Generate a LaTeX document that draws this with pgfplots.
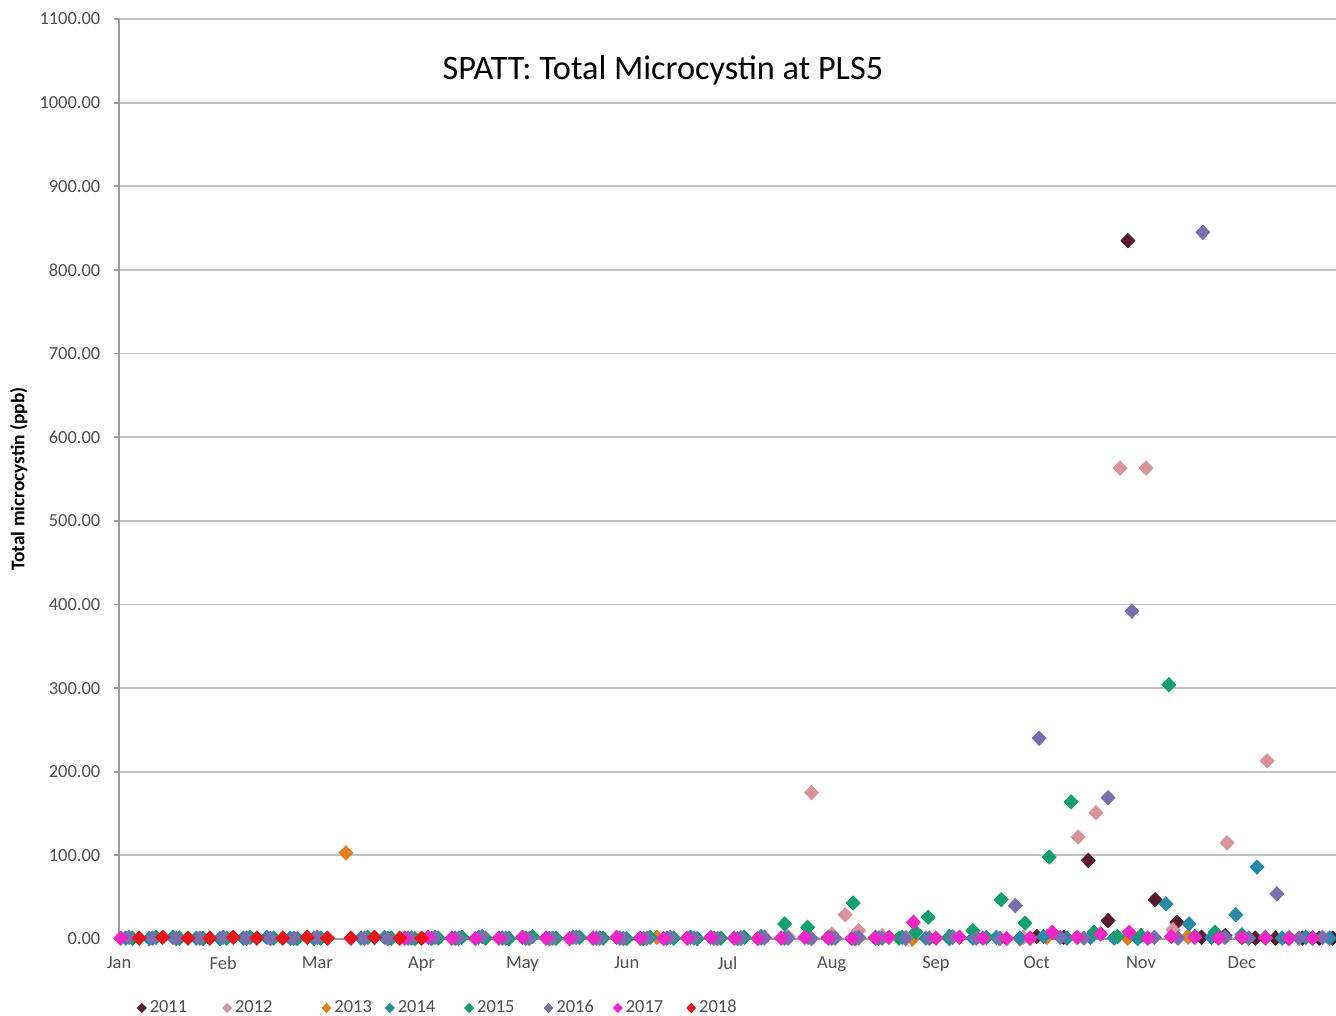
\documentclass[border=0pt]{standalone}
\usepackage{fontspec}
\setmainfont{Carlito}
\usepackage{pgfplots}
\pgfplotsset{compat=1.18}
\definecolor{C2011}{HTML}{5A1A2E}
\definecolor{C2012}{HTML}{D8939C}
\definecolor{C2013}{HTML}{E0801F}
\definecolor{C2014}{HTML}{2A8BA8}
\definecolor{C2015}{HTML}{13A06E}
\definecolor{C2016}{HTML}{7A6FAE}
\definecolor{C2017}{HTML}{F025C6}
\definecolor{C2018}{HTML}{E8141C}
\definecolor{TickText}{HTML}{505050}
\definecolor{GridGray}{HTML}{C4C4C4}
\newcommand{\gap}[1]{\rule{#1}{0pt}}

\begin{document}
\begin{tikzpicture}
\begin{axis}[scale only axis,width=243.4mm,height=184mm,
  xmin=0,xmax=362,ymin=0,ymax=1100,
  clip=false,
  axis lines*=left,
  axis line style={draw=GridGray!80!black,line width=1pt},
  ymajorgrids,grid style={GridGray,line width=1pt},
  ytick={0,100,...,1100},
  xtick={0,31,59,90,120,151,181,212,243,273,304,334},
  xticklabels={Jan,Feb,Mar,Apr,May,Jun,Jul,Aug,Sep,Oct,Nov,Dec},
  tick align=outside,
  xtick style={draw=none},
  ytick style={draw=GridGray!80!black,line width=1pt},
  major tick length=1mm,
  /pgf/number format/assume math mode=true,
  yticklabel style={xshift=-1.5mm,/pgf/number format/.cd,fixed,fixed zerofill,precision=2,1000 sep={}},
  tick label style={font=\fontsize{10.5}{12}\selectfont,text=TickText},
  xticklabel style={yshift=-1.2mm},
  ylabel={\bfseries Total microcystin (ppb)},
  ylabel style={font=\fontsize{11}{13}\selectfont},
  legend columns=8,
  legend cell align=left,
  legend image code/.code={\draw[mark repeat=2,mark phase=2,mark size=2.6pt]
    plot coordinates {(0cm,0cm) (0.1cm,0cm) (0.2cm,0cm)};},
  legend style={at={(rel axis cs:0,0)},anchor=west,xshift=3.6mm,yshift=-13.8mm,
    draw=none,fill=none,inner sep=0pt,
    font=\fontsize{10.5}{12}\selectfont,text=TickText,
    /tikz/every even column/.style={column sep=0pt},
    /tikz/every odd column/.style={column sep=0pt}},
  every axis plot/.append style={only marks,mark=diamond*,mark size=4.1pt,
    mark options={xscale=1.3}},
]
% 2011
\addplot[color=C2011] coordinates {
(273,3) (281,2) (288.3,94) (294.2,22) (300.1,835) (308.2,47) (314.7,20) (322,2)
(329,4) (334,2) (338,1) (344,1) (348,2) (352,1) (357,1) (361,1)};
\addlegendentry{2011\gap{6.4mm}}
% 2012
\addplot[color=C2012] coordinates {
(185,2) (192,1) (199,3) (206,175) (212,6) (216,29) (220,10) (227,4) (234,2)
(241,1) (248,3) (255,2) (262,1) (269,2) (276,3) (285.3,122) (290.6,151)
(297.8,563) (305.5,563) (313.5,11) (318,2) (329.6,115) (341.5,213) (348,2) (355,1)};
\addlegendentry{2012\gap{9.2mm}}
% 2013
\addplot[color=C2013] coordinates {
(67.5,103) (100,1) (160,2) (212,2) (220,1) (236,0) (255,2) (268,0) (271,1)
(276,2) (300,1) (318,3) (355,1)};
\addlegendentry{2013\gap{2mm}}
% 2014
\addplot[color=C2014] coordinates {
(2,1) (9,0.5) (16,2) (23,1) (30,0.5) (37,1) (44,2) (51,1) (58,0.5) (72,1) (79,2)
(86,1) (93,0.5) (100,1) (107,2) (114,1) (121,1) (128,0.5) (135,2) (142,1) (149,1)
(156,0.5) (163,1) (170,2) (177,1) (184,0.5) (191,1) (198,1) (205,2) (212,1)
(219,0.5) (226,1) (233,2) (240,1) (247,0.5) (254,1) (261,2) (268,1) (275,3)
(282,1) (289,2) (296,1) (303,0.5) (311.4,42) (318.3,18) (325,2) (332.2,29)
(338.5,86) (346,1) (353,2) (360,1)};
\addlegendentry{2014\gap{5.2mm}}
% 2015
\addplot[color=C2015] coordinates {
(4,1) (11,2) (18,1) (25,0.5) (32,1) (39,2) (46,1) (53,0.5) (60,1) (74,2) (81,1)
(88,0.5) (95,1) (102,2) (109,1) (116,0.5) (123,3) (130,1) (137,2) (144,1)
(151,0.5) (158,2) (165,1) (172,0.5) (179,1) (186,2) (191,3) (198,18) (204.8,14)
(211,2) (218.4,43) (225,2) (232,1) (237,8) (240.7,26) (247,3) (254,10) (258,2)
(262.4,47) (269.5,19) (276.7,98) (283.2,164) (290,8) (297,3) (304,4) (312.3,304)
(320,3) (326,8) (334,5) (341,2) (348,1) (355,1)};
\addlegendentry{2015\gap{5.2mm}}
% 2016
\addplot[color=C2016] coordinates {
(3,2) (10,1) (17,0.5) (24,1) (31,2) (38,1) (45,0.5) (52,1) (59,2) (73,1) (80,0.5)
(87,1) (94,2) (101,1) (108,3) (115,1) (122,0.5) (129,1) (136,2) (143,1) (150,0.5)
(157,1) (164,2) (171,1) (178,0.5) (185,1) (192,2) (199,1) (206,0.5) (213,1)
(220,2) (227,1) (234,0.5) (241,1) (248,2) (255,1) (262,0.5) (266.6,40)
(273.7,240) (280,2) (287,1) (294.2,169) (301.3,392) (308,2) (315,1) (322.4,845)
(329,2) (336,1) (344.4,54) (351,1) (358,2)};
\addlegendentry{2016\gap{3.2mm}}
% 2017
\addplot[color=C2017] coordinates {
(0.5,1) (85,1) (92,2) (99,1) (106,0.5) (113,1) (120,2) (127,1) (134,0.5) (141,1)
(148,2) (155,1) (162,0.5) (169,1) (176,2) (183,1) (190,0.5) (197,1) (204,2)
(211,1) (218,0.5) (225,1) (229,2) (236.3,20) (243,1) (250,2) (257,1) (264,0.5)
(271,1) (277.6,8) (285,2) (292,6) (300.5,8) (306,1) (313,3) (320,2) (327,1)
(334,2) (341,1) (348,0.5) (355,1)};
\addlegendentry{2017\gap{4mm}}
% 2018
\addplot[color=C2018] coordinates {
(6,1) (13,2) (20.5,1) (27,1) (34,2) (41,1) (48.7,1) (56,2) (62,1) (69,1) (76,2)
(83.5,1) (90,1)};
\addlegendentry{2018}
\node[anchor=center,font=\fontsize{19.5}{22}\selectfont] at (rel axis cs:0.447,0.9446)
  {SPATT: Total Microcystin at PLS5};
\coordinate (ll) at (rel axis cs:0,0);
\coordinate (ur) at (rel axis cs:1,1);
\end{axis}
\pgfresetboundingbox
\path (ll) ++(-23.8mm,-15.4mm) rectangle ([yshift=3.8mm]ur);
\end{tikzpicture}
\end{document}
